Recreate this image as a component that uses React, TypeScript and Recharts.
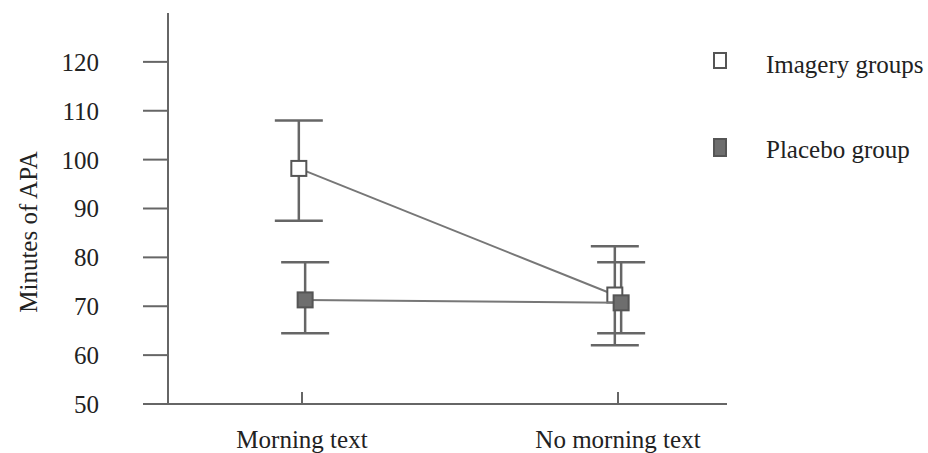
import React from "react";
import { ComposedChart, Scatter, XAxis, YAxis, ErrorBar } from "recharts";

const categories = ["Morning text", "No morning text"];
const imageryMean = [98.2, 72.3];
const imageryUpper = [108, 82.3];
const imageryLower = [87.5, 62];
const placeboMean = [71.3, 70.7];
const placeboUpper = [79, 79];
const placeboLower = [64.5, 64.5];
const yTicks = [50, 60, 70, 80, 90, 100, 110, 120];

const FONT = "'Liberation Serif', 'Times New Roman', serif";
const TEXT = "#222";
const AXIS = "#666";
const DODGE = 0.01;

const build = (mean: number[], upper: number[], lower: number[], shift: number) =>
  mean.map((m, i) => ({
    x: i + shift,
    y: m,
    err: [m - lower[i], upper[i] - m],
  }));

const imageryData = build(imageryMean, imageryUpper, imageryLower, -DODGE);
const placeboData = build(placeboMean, placeboUpper, placeboLower, DODGE);

const Square = (fill: string) => (props: any) => {
  const { cx, cy } = props;
  return <rect x={cx - 7.5} y={cy - 7.5} width={15} height={15} fill={fill} stroke="#555" strokeWidth={2} />;
};

const XTick = ({ x, y, payload }: any) => {
  const axisY = y - 26;
  return (
    <g>
      <line x1={x} x2={x} y1={axisY - 12} y2={axisY} stroke={AXIS} strokeWidth={2} />
      <text x={x} y={axisY + 44} textAnchor="middle" fontSize={25} fontFamily={FONT} fill={TEXT}>
        {categories[payload.value]}
      </text>
    </g>
  );
};

const YLabel = () => (
  <text
    x={37}
    y={232}
    transform="rotate(-90, 37, 232)"
    textAnchor="middle"
    fontSize={25}
    fontFamily={FONT}
    fill={TEXT}
  >
    Minutes of APA
  </text>
);

export default function App() {
  return (
    <div style={{ position: "absolute", left: 0, top: 0, width: 928, height: 453, background: "#fff" }}>
      <ComposedChart width={928} height={453} margin={{ top: 13, right: 201, left: 0, bottom: 0 }}>
        <XAxis
          type="number"
          dataKey="x"
          domain={[-0.424, 1.345]}
          ticks={[0, 1]}
          allowDataOverflow
          axisLine={{ stroke: AXIS, strokeWidth: 2 }}
          tickLine={false}
          tickSize={0}
          tickMargin={26}
          height={49}
          tick={<XTick />}
        />
        <YAxis
          type="number"
          dataKey="y"
          domain={[50, 130]}
          ticks={yTicks}
          allowDataOverflow
          width={168}
          tickSize={25}
          tickMargin={44}
          axisLine={{ stroke: AXIS, strokeWidth: 2 }}
          tickLine={{ stroke: AXIS, strokeWidth: 2 }}
          tick={{ fontSize: 25, fontFamily: FONT, fill: TEXT }}
          label={<YLabel />}
        />
        <Scatter
          name="Imagery groups"
          data={imageryData}
          line={{ stroke: "#777", strokeWidth: 2 }}
          shape={Square("#fff")}
          isAnimationActive={false}
        >
          <ErrorBar dataKey="err" direction="y" width={24} stroke={AXIS} strokeWidth={2.5} />
        </Scatter>
        <Scatter
          name="Placebo group"
          data={placeboData}
          line={{ stroke: "#777", strokeWidth: 2 }}
          shape={Square("#6e6e6e")}
          isAnimationActive={false}
        >
          <ErrorBar dataKey="err" direction="y" width={24} stroke={AXIS} strokeWidth={2.5} />
        </Scatter>
      </ComposedChart>
      <svg width={228} height={140} style={{ position: "absolute", left: 700, top: 40 }}>
        <rect x={14} y={13} width={12} height={15} fill="#fff" stroke="#555" strokeWidth={2} />
        <text x={66} y={33} fontSize={25} fontFamily={FONT} fill={TEXT}>
          Imagery groups
        </text>
        <rect x={14} y={99} width={12} height={17} fill="#6e6e6e" stroke="#555" strokeWidth={2} />
        <text x={66} y={118} fontSize={25} fontFamily={FONT} fill={TEXT}>
          Placebo group
        </text>
      </svg>
    </div>
  );
}
